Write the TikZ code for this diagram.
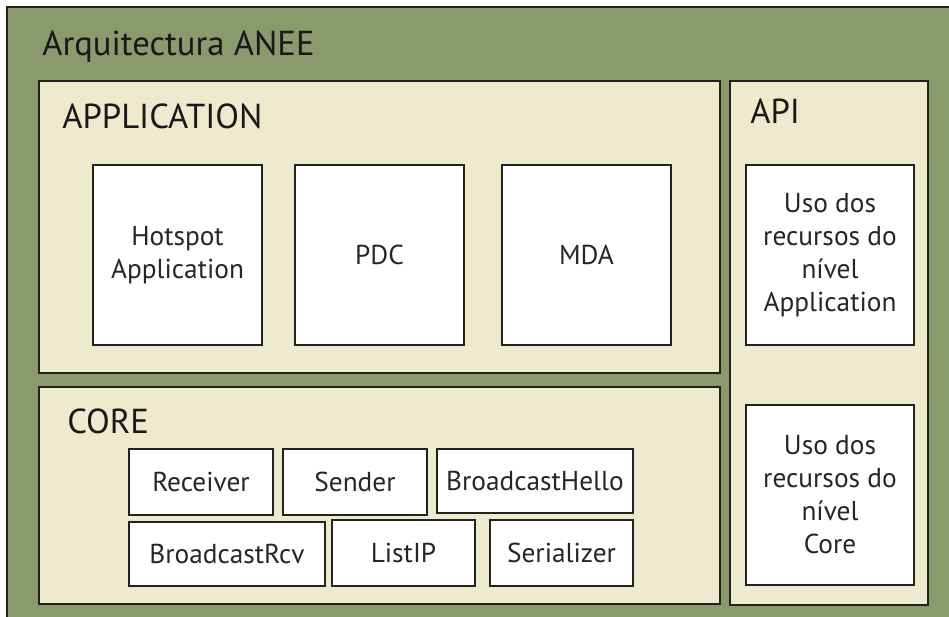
\documentclass[tikz,border=0pt]{standalone}
\usepackage{fontspec}
\setmainfont{PT Sans}
\usetikzlibrary{fit,shadows}
\definecolor{olive}{RGB}{138,154,108}
\definecolor{cream}{RGB}{238,234,205}
\definecolor{edge}{RGB}{34,34,30}
\tikzset{
  layer/.style={draw=edge, line width=1.6pt, fill=cream, inner sep=0pt},
  module/.style={draw=edge, line width=1.4pt, fill=white, inner sep=0pt,
    drop shadow={shadow xshift=1pt, shadow yshift=-1pt, fill=black, opacity=0.35}},
  label/.style={align=center, text=black!85, font=\fontsize{20.5}{24.75}\selectfont},
  heading/.style={anchor=base west, inner sep=0pt, text=black!90, font=\fontsize{26}{30}\selectfont},
}
\begin{document}
\begin{tikzpicture}[x=0.75pt, y=-0.75pt]
  \useasboundingbox (0,0) rectangle (949,617);
  \fill[white] (0,0) rectangle (949,617);
  % outer frame, running off the right and bottom edges
  \begin{scope}
    \clip (0,0) rectangle (949,617);
    \draw[draw=edge, line width=1.6pt, fill=olive] (7,7) rectangle (960,630);
  \end{scope}
  \node[heading] (title) at (42,56) {Arquitectura ANEE};

  % layers
  \node[layer, fit={(39,81) (720,373)}] (app) {};
  \node[layer, fit={(39,387) (720,604)}] (core) {};
  \node[layer, fit={(730,81) (928,605)}] (api) {};
  \node[heading] (apptitle) at (62,128) {APPLICATION};
  \node[heading] (coretitle) at (67,433) {CORE};
  \node[heading] (apititle) at (750,123) {API};

  % application modules
  \node[module, fit={(93,165) (262,345)}] (hotspot) {};
  \node[label] at (hotspot.center) {Hotspot\\Application};
  \node[module, fit={(295,165) (464,345)}] (pdc) {};
  \node[label] at (pdc.center) {PDC};
  \node[module, fit={(502,165) (671,345)}] (mda) {};
  \node[label] at (mda.center) {MDA};

  % api modules
  \node[module, fit={(746,165) (914,345)}] (useapp) {};
  \node[label] at (useapp.center) {Uso dos\\recursos do\\nível\\Application};
  \node[module, fit={(746,405) (914,585)}] (usecore) {};
  \node[label] at (usecore.center) {Uso dos\\recursos do\\nível\\Core};

  % core modules
  \node[module, fit={(129,449) (273,515)}] (receiver) {};
  \node[label] at (receiver.center) {Receiver};
  \node[module, fit={(283,449) (427,515)}] (sender) {};
  \node[label] at (sender.center) {Sender};
  \node[module, fit={(437,449) (633,513)}] (bhello) {};
  \node[label] at (bhello.center) {BroadcastHello};
  \node[module, fit={(129,522) (325,586)}] (brcv) {};
  \node[label] at (brcv.center) {BroadcastRcv};
  \node[module, fit={(332,520) (475,586)}] (listip) {};
  \node[label] at (listip.center) {ListIP};
  \node[module, fit={(490,520) (633,586)}] (serial) {};
  \node[label] at (serial.center) {Serializer};
\end{tikzpicture}
\end{document}
